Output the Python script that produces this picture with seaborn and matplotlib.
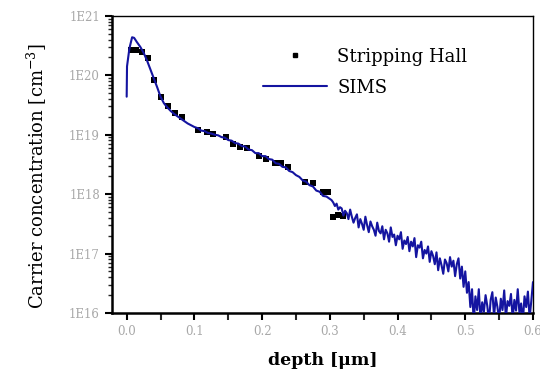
import numpy as np
import pandas as pd
import matplotlib
matplotlib.use("Agg")
import matplotlib.pyplot as plt
import matplotlib.ticker as mticker
from matplotlib.lines import Line2D
import seaborn as sns

# Stripping Hall measurements: depth [um], log10 carrier concentration [cm^-3]
hall_depth = [0.007, 0.014, 0.022, 0.031, 0.041, 0.050, 0.061, 0.071, 0.081,
              0.105, 0.118, 0.128, 0.147, 0.157, 0.167, 0.177, 0.196, 0.206,
              0.219, 0.228, 0.238, 0.263, 0.275, 0.290, 0.297, 0.305, 0.312,
              0.320]
hall_log = [20.43, 20.43, 20.40, 20.29, 19.92, 19.63, 19.48, 19.36, 19.29,
            19.08, 19.04, 19.01, 18.97, 18.85, 18.80, 18.77, 18.64, 18.59,
            18.52, 18.52, 18.46, 18.21, 18.18, 18.04, 18.03, 17.61, 17.65,
            17.63]

# SIMS profile: depth [um], log10 concentration [cm^-3]
sims_depth = [
    0.000, 0.0005, 0.004, 0.008, 0.011, 0.015, 0.020, 0.025, 0.030, 0.035,
    0.040, 0.045, 0.050, 0.055, 0.060, 0.065, 0.070, 0.075, 0.080, 0.085,
    0.090, 0.095, 0.100, 0.105, 0.110, 0.115, 0.120, 0.125, 0.130, 0.135,
    0.140, 0.145, 0.150, 0.155, 0.160, 0.165, 0.170, 0.175, 0.180, 0.185,
    0.190, 0.195, 0.200, 0.205, 0.210, 0.215, 0.220, 0.225, 0.230, 0.235,
    0.240, 0.245, 0.250, 0.255, 0.260, 0.265, 0.270, 0.275, 0.280, 0.285,
    0.290, 0.295, 0.300,
    0.3025, 0.3050, 0.3075, 0.3100, 0.3125, 0.3150, 0.3175, 0.3200, 0.3225,
    0.3250, 0.3275, 0.3300, 0.3325, 0.3350, 0.3375, 0.3400, 0.3425, 0.3450,
    0.3475, 0.3500, 0.3525, 0.3550, 0.3575, 0.3600, 0.3625, 0.3650, 0.3675,
    0.3700, 0.3725, 0.3750, 0.3775, 0.3800, 0.3825, 0.3850, 0.3875, 0.3900,
    0.3925, 0.3950, 0.3975, 0.4000, 0.4025, 0.4050, 0.4075, 0.4100, 0.4125,
    0.4150, 0.4175, 0.4200, 0.4225, 0.4250, 0.4275, 0.4300, 0.4325, 0.4350,
    0.4375, 0.4400, 0.4425, 0.4450, 0.4475, 0.4500, 0.4525, 0.4550, 0.4575,
    0.4600, 0.4625, 0.4650, 0.4675, 0.4700, 0.4725, 0.4750, 0.4775, 0.4800,
    0.4825, 0.4850, 0.4875, 0.4900, 0.4925, 0.4950, 0.4975, 0.5000, 0.5025,
    0.5050, 0.5075, 0.5100, 0.5125, 0.5150, 0.5175, 0.5200, 0.5225, 0.5250,
    0.5275, 0.5300, 0.5325, 0.5350, 0.5375, 0.5400, 0.5425, 0.5450, 0.5475,
    0.5500, 0.5525, 0.5550, 0.5575, 0.5600, 0.5625, 0.5650, 0.5675, 0.5700,
    0.5725, 0.5750, 0.5775, 0.5800, 0.5825, 0.5850, 0.5875, 0.5900, 0.5925,
    0.5950, 0.5975, 0.6000,
]
sims_log = [
    19.64, 20.15, 20.45, 20.64, 20.63, 20.56, 20.48, 20.38, 20.25, 20.10,
    19.95, 19.80, 19.64, 19.53, 19.46, 19.40, 19.35, 19.31, 19.27, 19.23,
    19.19, 19.16, 19.13, 19.11, 19.07, 19.06, 19.03, 19.02, 19.00, 18.99,
    18.96, 18.95, 18.91, 18.90, 18.86, 18.85, 18.81, 18.80, 18.75, 18.74,
    18.69, 18.69, 18.64, 18.64, 18.59, 18.58, 18.52, 18.51, 18.46, 18.45,
    18.39, 18.37, 18.32, 18.29, 18.23, 18.21, 18.15, 18.13, 18.06, 18.04,
    17.97, 17.96, 17.92,
    17.90, 17.86, 17.80, 17.84, 17.74, 17.78, 17.76, 17.64, 17.72,
    17.68, 17.58, 17.74, 17.62, 17.52, 17.60, 17.66, 17.44, 17.58,
    17.50, 17.40, 17.62, 17.48, 17.36, 17.54, 17.46, 17.40, 17.30,
    17.52, 17.38, 17.34, 17.46, 17.24, 17.40, 17.34, 17.20, 17.44,
    17.28, 17.32, 17.14, 17.30, 17.24, 17.36, 17.08, 17.22, 17.16,
    17.28, 17.04, 17.20, 17.12, 17.26, 16.94, 17.14, 17.10, 17.20,
    16.92, 17.06, 17.00, 17.12, 16.86, 17.04, 16.96, 16.82, 17.02,
    16.72, 16.92, 16.80, 16.66, 16.90, 16.84, 16.70, 16.94, 16.78,
    16.88, 16.62, 16.82, 16.92, 16.58, 16.78, 16.44, 16.70, 16.34,
    16.52, 16.10, 16.40, 15.85, 16.28, 16.05, 16.40, 15.88, 16.18,
    16.02, 16.30, 16.12, 15.86, 16.22, 16.35, 15.95, 16.26, 16.10,
    15.88, 16.24, 16.05, 16.38, 15.92, 16.20, 16.12, 16.32, 15.90,
    16.22, 16.04, 16.40, 16.00, 16.16, 15.85, 16.28, 16.10, 16.36,
    15.92, 16.20, 16.52,
]

hall = pd.DataFrame({"depth": hall_depth, "conc": np.power(10.0, hall_log)})
sims = pd.DataFrame({"depth": sims_depth, "conc": np.power(10.0, sims_log)})

sns.set_style("ticks")
plt.rcParams["font.family"] = ["DejaVu Serif"]
plt.rcParams["mathtext.fontset"] = "dejavuserif"
plt.rcParams["text.color"] = "black"
plt.rcParams["axes.labelcolor"] = "black"

fig = plt.figure(figsize=(5.4, 3.78), dpi=100)
ax = fig.add_axes([0.207, 0.172, 0.780, 0.786])

sims_color = "#1414a0"
sns.scatterplot(ax=ax, data=hall, x="depth", y="conc", marker="s", s=13,
                color="black", edgecolor="black", linewidth=0, zorder=2)
sns.lineplot(ax=ax, data=sims, x="depth", y="conc", color=sims_color,
             linewidth=1.5, sort=False, estimator=None, zorder=3)

ax.set_yscale("log")
ax.set_ylim(1e16, 1e21)
ax.set_xlim(-0.022, 0.6)

ax.xaxis.set_major_locator(mticker.MultipleLocator(0.1))
ax.xaxis.set_minor_locator(mticker.MultipleLocator(0.05))
ax.xaxis.set_major_formatter(mticker.FormatStrFormatter("%.1f"))
ax.yaxis.set_major_locator(mticker.LogLocator(base=10, numticks=10))
ax.yaxis.set_minor_locator(mticker.LogLocator(base=10, subs=np.arange(2, 10), numticks=20))
ax.yaxis.set_major_formatter(mticker.FuncFormatter(lambda v, p: "1E%d" % round(np.log10(v))))
ax.yaxis.set_minor_formatter(mticker.NullFormatter())

ax.tick_params(axis="both", which="major", direction="out", length=5, width=1.5,
               colors="black", labelcolor="#a8a8a8", labelsize=8.5, right=False, top=False)
ax.tick_params(axis="y", which="minor", direction="out", length=3, width=1.0, right=False)
ax.tick_params(axis="x", which="minor", direction="out", length=5, width=1.5, top=False)
for side in ["left", "bottom", "top", "right"]:
    ax.spines[side].set_visible(True)
    ax.spines[side].set_color("black")
ax.spines["left"].set_linewidth(1.8)
ax.spines["bottom"].set_linewidth(1.8)
ax.spines["top"].set_linewidth(1.0)
ax.spines["right"].set_linewidth(1.0)

ax.set_xlabel("depth [μm]", fontsize=12.5, fontweight="bold", color="black", labelpad=10)
ax.set_ylabel(r"Carrier concentration [cm$^{-3}$]", fontsize=13, color="black")
ax.yaxis.set_label_coords(-0.150, 0.46)

handles = [
    Line2D([], [], marker="s", color="black", linestyle="none", markersize=3.5),
    Line2D([], [], color=sims_color, linewidth=1.5),
]
ax.legend(handles, ["Stripping Hall", "SIMS"], loc="upper left",
          bbox_to_anchor=(0.359, 0.893), frameon=False, fontsize=13,
          borderpad=0, borderaxespad=0, handlelength=3.55,
          handletextpad=0.55, labelspacing=0.72)

fig.savefig("out.png", dpi=100)
